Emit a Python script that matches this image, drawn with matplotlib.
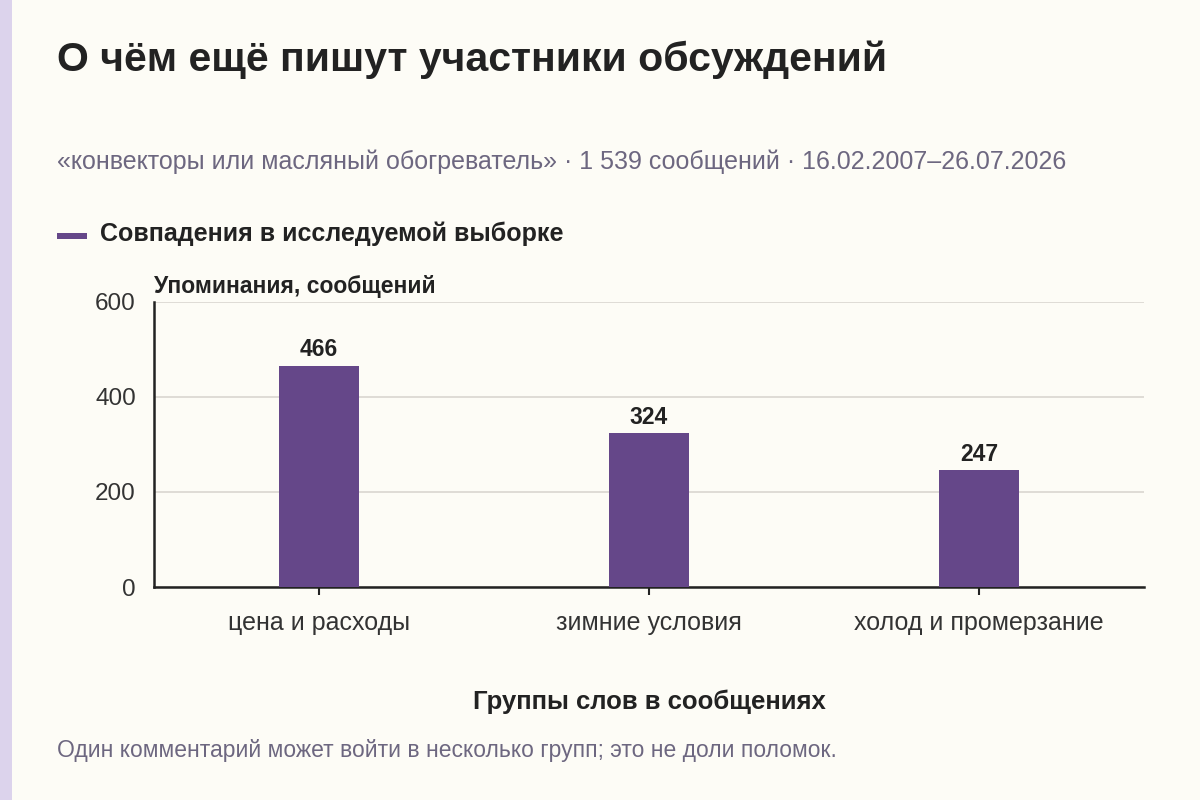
import matplotlib
matplotlib.use("Agg")
import matplotlib.pyplot as plt
from matplotlib.patches import Rectangle

categories = ["цена и расходы", "зимние условия", "холод и промерзание"]
values = [466, 324, 247]
yticks = [0, 200, 400, 600]

title = "О чём ещё пишут участники обсуждений"
subtitle = "«конвекторы или масляный обогреватель» · 1 539 сообщений · 16.02.2007–26.07.2026"
legend_label = "Совпадения в исследуемой выборке"
ylabel = "Упоминания, сообщений"
xlabel = "Группы слов в сообщениях"
footnote = "Один комментарий может войти в несколько групп; это не доли поломок."

plt.rcParams['font.family'] = ['Liberation Sans', 'DejaVu Sans']

BG = "#fdfcf6"
BAR = "#654789"
DARK = "#222222"
MUTED = "#6d6780"

fig = plt.figure(figsize=(12, 8), dpi=100, facecolor=BG)

# left accent strip
fig.patches.append(Rectangle((0, 0), 12/1200, 1, transform=fig.transFigure,
                             facecolor="#dcd3ec", edgecolor="none", zorder=0))

ax = fig.add_axes([154/1200, 213/800, 990/1200, 285/800])
ax.set_facecolor(BG)
x = list(range(len(categories)))
bars = ax.bar(x, values, width=80/330, color=BAR, zorder=3)
ax.set_xlim(-0.5, len(categories) - 0.5)
ax.set_ylim(0, 600)
ax.set_yticks(yticks)
ax.set_xticks(x)
ax.set_xticklabels(categories)
ax.yaxis.grid(True, color="#d9d6d0", linewidth=1.2, zorder=0)
ax.set_axisbelow(True)
for s in ["top", "right"]:
    ax.spines[s].set_visible(False)
for s in ["left", "bottom"]:
    ax.spines[s].set_color(DARK)
    ax.spines[s].set_linewidth(1.8)
ax.tick_params(axis="y", length=0, pad=13, labelsize=17.5, labelcolor="#333333")
ax.tick_params(axis="x", length=6, width=1.5, color=DARK, pad=11,
               labelsize=18, labelcolor="#333333")
for lbl in ax.get_yticklabels():
    lbl.set_y(lbl.get_position()[1])

for rect, v in zip(bars, values):
    ax.annotate(f"{v}", (rect.get_x() + rect.get_width() / 2, v),
                xytext=(0, 3), textcoords="offset points",
                ha="center", va="bottom", fontsize=16.5, fontweight="bold",
                color=DARK)

fig.text(57/1200, 1 - 60/800, title, fontsize=29.5, fontweight="bold",
         color=DARK, ha="left", va="center")
fig.text(57/1200, 1 - 162/800, subtitle, fontsize=18, color=MUTED,
         ha="left", va="center")
fig.patches.append(Rectangle((57/1200, 1 - 239/800), 30/1200, 6/800,
                             transform=fig.transFigure, facecolor=BAR,
                             edgecolor="none"))
fig.text(100/1200, 1 - 234/800, legend_label, fontsize=18, fontweight="bold",
         color=DARK, ha="left", va="center")
fig.text(154/1200, 1 - 287/800, ylabel, fontsize=16.5, fontweight="bold",
         color=DARK, ha="left", va="center")
fig.text(649/1200, 1 - 702/800, xlabel, fontsize=18.5, fontweight="bold",
         color=DARK, ha="center", va="center")
fig.text(57/1200, 1 - 750/800, footnote, fontsize=16.5, color=MUTED,
         ha="left", va="center")

fig.savefig("out.png", dpi=100, facecolor=BG)
